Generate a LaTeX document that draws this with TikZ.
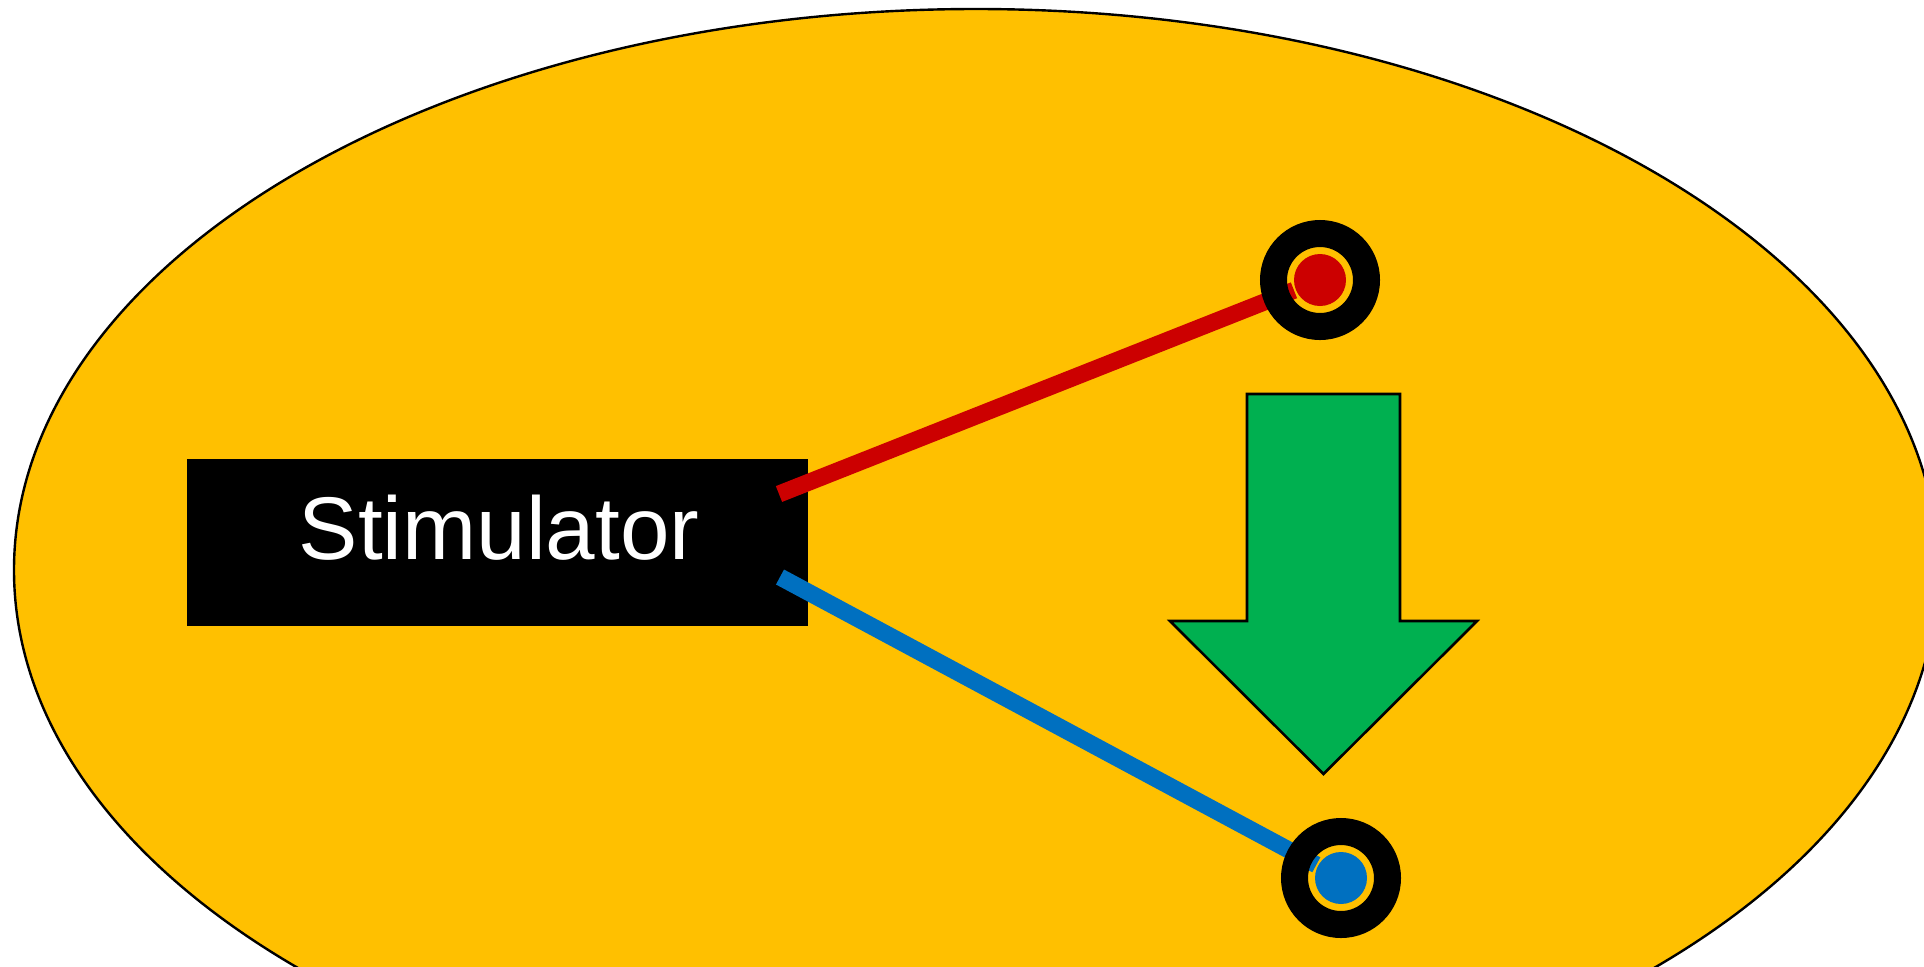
\documentclass[tikz,border=0pt]{standalone}
\usepackage{fontspec}
\setmainfont{Liberation Sans}
\definecolor{tissue}{HTML}{FFC000}
\definecolor{arrowgreen}{HTML}{00B050}
\definecolor{leadred}{HTML}{CC0000}
\definecolor{leadblue}{HTML}{0070C0}
\tikzset{
  tissuestyle/.style={fill=tissue, draw=black, line width=1.2pt},
  stimbox/.style={rectangle, fill=black, draw=none, minimum width=310.5pt, minimum height=83.5pt, inner sep=0pt},
  stimtext/.style={text=white, font=\fontsize{44.5pt}{50pt}\selectfont, inner sep=0pt},
  ring/.style={circle, draw=black, line width=13.5pt, minimum size=46.5pt, inner sep=0pt},
  contact/.style={circle, fill=#1, draw=none, minimum size=26pt, inner sep=0pt},
  lead/.style={draw=#1, line width=8.5pt, line cap=butt, shorten >=14pt},
  bigarrow/.style={fill=arrowgreen, draw=black, line width=1.3pt, line join=miter}
}
\begin{document}
\begin{tikzpicture}[x=0.5pt, y=-0.5pt]
\useasboundingbox (0,0) rectangle (1924,966);
\fill[white] (0,0) rectangle (1924,966);
\clip (0,0) rectangle (1924,966);
% tissue
\draw[tissuestyle] (976,570) ellipse [x radius=962, y radius=561];
% green arrow
\draw[bigarrow] (1247,394) -- (1400,394) -- (1400,621) -- (1477,621) -- (1323.5,774) -- (1170,621) -- (1247,621) -- cycle;
% stimulator
\node[stimbox] (stim) at (497.5,542.5) {};
\node[stimtext, anchor=base] (stimlabel) at (499,559) {Stimulator};
% lead start points
\coordinate (redstart) at (779,494);
\coordinate (bluestart) at (780,577);
% electrodes
\coordinate (redc) at (1320,280);
\coordinate (bluec) at (1341,878);
\draw[lead=leadred] (redstart) -- (redc);
\draw[lead=leadblue] (bluestart) -- (bluec);
\node[ring] (redring) at (redc) {};
\node[ring] (bluering) at (bluec) {};
\node[contact=leadred] (reddot) at (redc) {};
\node[contact=leadblue] (bluedot) at (bluec) {};
\end{tikzpicture}
\end{document}
